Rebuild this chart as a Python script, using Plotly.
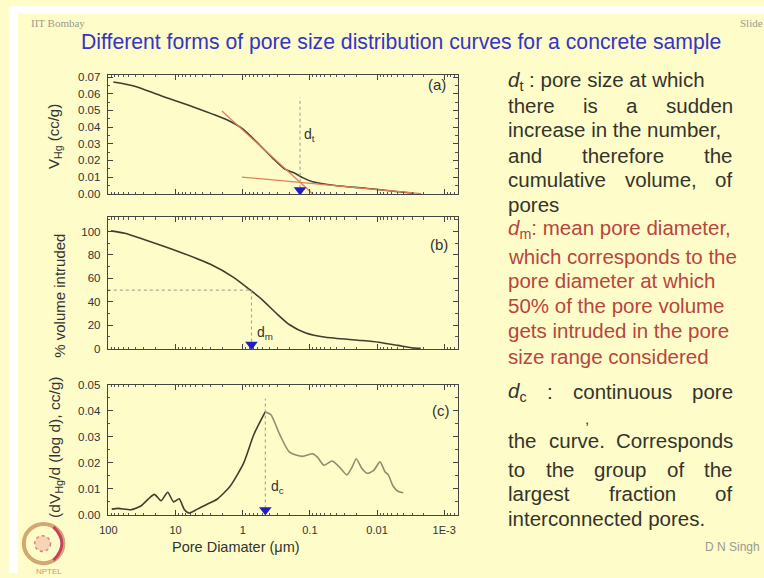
import re
import plotly.graph_objects as go

# ---------------- data ----------------
# (a) cumulative intruded volume
diam_a = [84.3, 40.5, 16.4, 5.31, 1.72, 0.977, 0.603, 0.355, 0.240, 0.162, 0.126, 0.0912, 0.0417, 0.0120, 0.00562, 0.00282]
vol_a = [0.0671, 0.0646, 0.0588, 0.0520, 0.0444, 0.0386, 0.0305, 0.0212, 0.0150, 0.0120, 0.0095, 0.0072, 0.0049, 0.0029, 0.0015, 0.0003]
tangent1_d = [2.04, 0.0912]
tangent1_v = [0.0497, 0.0]
tangent2_d = [1.03, 0.0022]
tangent2_v = [0.0100, 0.0]
d_t = 0.14
d_t_top = 0.058

# (b) % volume intruded
diam_b = [91.2, 56.9, 28.8, 9.33, 3.02, 1.37, 0.782, 0.501, 0.316, 0.201, 0.115, 0.0582, 0.0191, 0.00955, 0.0049, 0.00309, 0.00224]
pct_b = [100.6, 98.6, 93.0, 83.2, 72.0, 60.9, 50.3, 41.3, 30.2, 20.4, 13.4, 9.7, 7.2, 5.5, 2.8, 0.8, 0.3]
d_m = 0.74
pct_m = 50

# (c) differential curve
diam_c = [89.1, 71.3, 45.4, 32.4, 25.7, 20.6, 16.4, 13.1, 10.7, 8.83, 7.45, 6.31, 4.74, 3.39, 2.41, 1.54,
          0.977, 0.680, 0.46, 0.380, 0.282, 0.201, 0.129, 0.0912, 0.0771, 0.0617, 0.0468, 0.0372, 0.0282,
          0.0234, 0.0204, 0.0168, 0.0141, 0.0113, 0.00904, 0.00762, 0.00681, 0.00575, 0.0049, 0.00407]
dv_c = [0.0021, 0.0024, 0.0019, 0.0034, 0.0059, 0.0078, 0.0053, 0.0086, 0.0049, 0.0061, 0.0021, 0.0006, 0.0021,
        0.0040, 0.0059, 0.0109, 0.0196, 0.0309, 0.0396, 0.0384, 0.0309, 0.0240, 0.0224, 0.0234, 0.0221, 0.0190,
        0.0206, 0.0186, 0.0153, 0.0184, 0.0215, 0.0177, 0.0159, 0.0169, 0.0203, 0.0165, 0.0153, 0.0109, 0.0090, 0.0084]
d_c = 0.46
d_c_top = 0.0446

x_tickvals = [100, 10, 1, 0.1, 0.01, 0.001]
x_ticktext = ["100", "10", "1", "0.1", "0.01", "1E-3"]

# ---------------- styling helpers ----------------
W, H = 764, 578
BG = "#FEFCC9"
CURVE = "#3f3f30"
CURVE_LIGHT = "#8e8e6e"
RED = "#E0805E"
BLUE = "#1f1fc0"
DOT = "#a8a8a0"
FONT = "Liberation Sans"

def px(x):
    return x / W

def py(y):
    return 1 - y / H

XRANGE = [2.008, -3.2]
x_left = 10 ** XRANGE[0]
minor_x = [m * 10 ** e for e in range(-4, 3) for m in range(2, 10)]

fig = go.Figure()

# (a)
fig.add_trace(go.Scatter(x=diam_a, y=vol_a, mode="lines", line=dict(color=CURVE, width=1.6, shape="spline", smoothing=0.6),
                         xaxis="x", yaxis="y"))
fig.add_trace(go.Scatter(x=tangent1_d, y=tangent1_v, mode="lines", line=dict(color=RED, width=1.3), xaxis="x", yaxis="y"))
fig.add_trace(go.Scatter(x=tangent2_d, y=tangent2_v, mode="lines", line=dict(color=RED, width=1.3), xaxis="x", yaxis="y"))
fig.add_trace(go.Scatter(x=[d_t, d_t], y=[0, d_t_top], mode="lines", line=dict(color=DOT, width=1.2, dash="dot"), xaxis="x", yaxis="y"))
fig.add_trace(go.Scatter(x=[d_t], y=[0.0022], mode="markers", marker=dict(symbol="triangle-down", size=11, color=BLUE),
                         xaxis="x", yaxis="y"))

# (b)
fig.add_trace(go.Scatter(x=diam_b, y=pct_b, mode="lines", line=dict(color=CURVE, width=1.6, shape="spline", smoothing=0.6),
                         xaxis="x2", yaxis="y2"))
fig.add_trace(go.Scatter(x=[x_left, d_m, d_m], y=[pct_m, pct_m, 0], mode="lines", line=dict(color=DOT, width=1.2, dash="dot"),
                         xaxis="x2", yaxis="y2"))
fig.add_trace(go.Scatter(x=[d_m], y=[3.5], mode="markers", marker=dict(symbol="triangle-down", size=11, color=BLUE),
                         xaxis="x2", yaxis="y2"))

# (c)
peak = dv_c.index(max(dv_c))
fig.add_trace(go.Scatter(x=diam_c[:peak + 1], y=dv_c[:peak + 1], mode="lines",
                         line=dict(color=CURVE, width=1.6, shape="spline", smoothing=0.6), xaxis="x3", yaxis="y3"))
fig.add_trace(go.Scatter(x=diam_c[peak:], y=dv_c[peak:], mode="lines",
                         line=dict(color=CURVE_LIGHT, width=1.6, shape="spline", smoothing=0.6), xaxis="x3", yaxis="y3"))
fig.add_trace(go.Scatter(x=[d_c, d_c], y=[0, d_c_top], mode="lines", line=dict(color=DOT, width=1.2, dash="dot"),
                         xaxis="x3", yaxis="y3"))
fig.add_trace(go.Scatter(x=[d_c], y=[0.0018], mode="markers", marker=dict(symbol="triangle-down", size=11, color=BLUE),
                         xaxis="x3", yaxis="y3"))

xdom = [px(100), px(454)]

def xaxis(anchor, labels):
    return dict(type="log", range=XRANGE, domain=xdom, anchor=anchor, showgrid=False, zeroline=False,
                tickmode="array", tickvals=x_tickvals, ticktext=x_ticktext, showticklabels=labels,
                ticks="inside", ticklen=5, tickcolor="#444", showline=True, linecolor="#444", linewidth=1.2,
                mirror="ticks", tickfont=dict(family=FONT, size=11, color="#333"), ticklabelstandoff=5,
                minor=dict(tickvals=minor_x, ticks="inside", ticklen=2.5, tickcolor="#555"))

def yaxis(anchor, dom, rng, dtick, mdtick, fmt):
    return dict(range=rng, domain=dom, anchor=anchor, showgrid=False, zeroline=False, tick0=0, dtick=dtick,
                tickformat=fmt, ticks="inside", ticklen=5, tickcolor="#444", showline=True, linecolor="#444",
                linewidth=1.2, mirror="ticks", tickfont=dict(family=FONT, size=11.5, color="#333"), ticklabelstandoff=4,
                minor=dict(dtick=mdtick, ticks="inside", ticklen=2.5, tickcolor="#555"))

fig.update_layout(
    width=W, height=H, margin=dict(l=0, r=0, t=0, b=0), showlegend=False,
    paper_bgcolor=BG, plot_bgcolor=BG,
    xaxis=xaxis("y", False),
    yaxis=yaxis("x", [py(192), py(70)], [-0.0004, 0.0715], 0.01, 0.005, ".2f"),
    xaxis2=xaxis("y2", False),
    yaxis2=yaxis("x2", [py(350), py(215)], [-0.6, 112.5], 20, 10, "d"),
    xaxis3=xaxis("y3", True),
    yaxis3=yaxis("x3", [py(519), py(386)], [-0.0002, 0.05], 0.01, 0.005, ".2f"),
)

# white edges of the slide
fig.add_shape(type="rect", xref="paper", yref="paper", x0=0, x1=1, y0=py(8), y1=1, fillcolor="white", line_width=0, layer="below")
fig.add_shape(type="rect", xref="paper", yref="paper", x0=0, x1=px(9), y0=0, y1=1, fillcolor="white", line_width=0, layer="below")

# NPTEL logo (simple)
fig.add_shape(type="circle", xref="paper", yref="paper", x0=px(15), x1=px(55), y0=py(568), y1=py(528),
              line=dict(color="#d0a870", width=4), fillcolor="rgba(0,0,0,0)")
fig.add_shape(type="path", xref="paper", yref="paper",
              path=f"M {px(45)},{py(531)} Q {px(62)},{py(548)} {px(45)},{py(565)}",
              line=dict(color="#c84060", width=3))
fig.add_shape(type="circle", xref="paper", yref="paper", x0=px(26), x1=px(42), y0=py(556), y1=py(540),
              line=dict(color="#e08080", width=1.5, dash="dot"), fillcolor="rgba(230,140,140,0.35)")

ann = []
def text(x, y, s, size, color, xanchor="left", family=FONT, angle=0):
    ann.append(dict(x=px(x), y=py(y), xref="paper", yref="paper", text=s, showarrow=False, xanchor=xanchor,
                    yanchor="middle", textangle=angle, borderpad=0, borderwidth=0,
                    font=dict(family=family, size=size, color=color)))

text(22, 17, "IIT Bombay", 11, "#9a9a90", family="Liberation Serif")
text(740, 17, "Slide 19", 11, "#9a9a90", family="Liberation Serif")
text(397, 37, "Different forms of pore size distribution curves for a concrete sample", 21.2, "#3535c8", xanchor="center")
text(40, 576, "NPTEL", 8, "#c8a060", xanchor="center")

# panel annotations
text(433, 80, "(a)", 15, "#333", xanchor="center")
text(435, 243, "(b)", 15, "#333", xanchor="center")
text(437, 412, "(c)", 15, "#333", xanchor="center")
text(299, 132, "d<sub>t</sub>", 14, "#333")
text(251, 333, "d<sub>m</sub>", 14, "#333")
text(265, 490, "d<sub>c</sub>", 14, "#333")

# axis titles
text(46, 133, "V<sub>Hg</sub> (cc/g)", 15, "#333", xanchor="center", angle=-90)
text(51, 295, "% volume intruded", 15, "#333", xanchor="center", angle=-90)
text(47, 450, "(dV<sub>Hg</sub>/d (log d), cc/g)", 15.5, "#333", xanchor="center", angle=-90)
text(230, 551, "Pore Diamater (μm)", 14.5, "#333", xanchor="center")

# ---- right-hand text (justified block) ----
CW = dict(zip("abcdefghijklmnopqrstuvwxyz",
              [556, 556, 500, 556, 556, 278, 556, 556, 222, 222, 500, 222, 833, 556, 556, 556, 556, 333, 500, 278,
               556, 500, 722, 500, 500, 500]))
CW.update({" ": 278, ",": 278, ".": 278, ":": 278, "C": 722, "%": 889, "5": 556, "0": 556})

def tw(s, size):
    total = 0.0
    for part in re.split(r"(<sub>.*?</sub>)", s):
        plain = re.sub(r"<[^>]+>", "", part)
        w = sum(CW.get(c, 556) for c in plain)
        total += w * (0.7 if part.startswith("<sub>") else 1.0)
    return total * size / 1000

dark = "#34342c"
red = "#b8453e"
TS = 20.5
lines = [
    (76, "<i>d</i><sub>t</sub> : pore size at which", dark, False),
    (101, "there is a sudden", dark, True),
    (126, "increase in the number,", dark, False),
    (152, "and therefore the", dark, True),
    (177, "cumulative volume, of", dark, True),
    (202, "pores", dark, False),
    (227, "<i>d</i><sub>m</sub>: mean pore diameter,", red, False),
    (255, "which corresponds to the", red, False),
    (280, "pore diameter at which", red, False),
    (305, "50% of the pore volume", red, False),
    (331, "gets intruded in the pore", red, False),
    (357, "size range considered", red, False),
    (393, "<i>d</i><sub>c</sub> : continuous pore", dark, True),
    (443, "the curve. Corresponds", dark, True),
    (472, "to the group of the", dark, True),
    (497, "largest fraction of", dark, True),
    (522, "interconnected pores.", dark, False),
]
L, R = 505, 732
for y, s, c, justify in lines:
    if justify:
        words = s.split(" ")
        widths = [tw(w, TS) for w in words]
        gap = (R - L - sum(widths)) / (len(words) - 1)
        xcur = L
        for w, wd in zip(words, widths):
            text(xcur, y, w, TS, c, xanchor="left")
            xcur += wd + gap
    else:
        text(L, y, s, TS, c)
text(585, 420, ",", 15, dark, xanchor="center")
text(760, 552, "D N Singh", 12, "#9a9a90", xanchor="right")

fig.update_layout(annotations=ann)
fig.write_html("out.html")
